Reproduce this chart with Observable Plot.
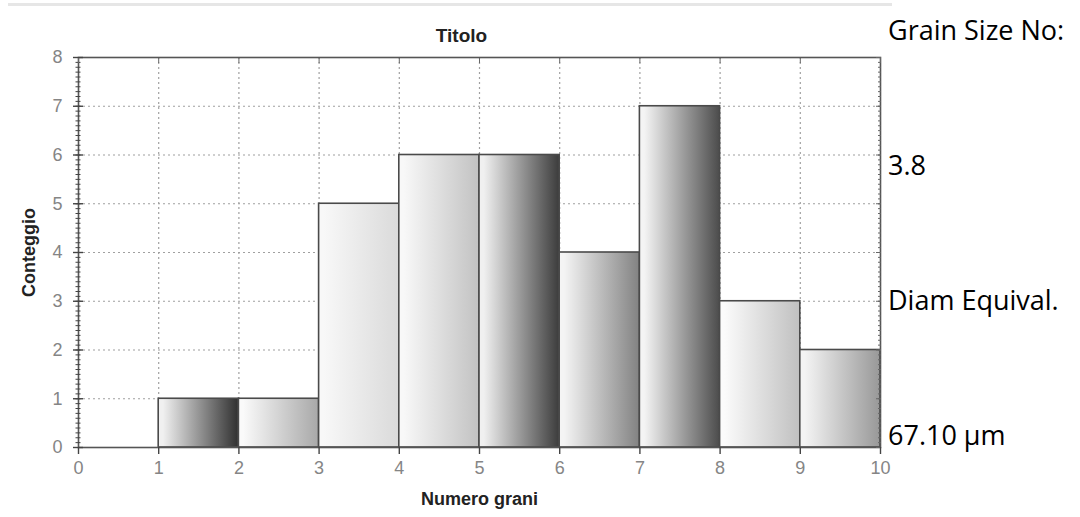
<!DOCTYPE html>
<html><head><meta charset="utf-8">
<script src="https://cdn.jsdelivr.net/npm/d3@7"></script>
<script src="https://cdn.jsdelivr.net/npm/@observablehq/plot@0.6"></script>
<style>
body{margin:0;background:#fff;width:1080px;height:517px;overflow:hidden;position:relative}
#chart{position:absolute;left:0;top:0}
#topline{position:absolute;left:8px;top:3px;width:884px;height:3px;background:#e6e6e6}
#side{position:absolute;left:0;top:0}
</style></head><body>
<div id="topline"></div>
<div id="chart"></div>
<svg id="side" width="1080" height="517"></svg>
<script>
// ---- data ----
const binStart = [1, 2, 3, 4, 5, 6, 7, 8, 9];
const binEnd   = [2, 3, 4, 5, 6, 7, 8, 9, 10];
const counts   = [1, 1, 5, 6, 6, 4, 7, 3, 2];
const xTicks = [0, 1, 2, 3, 4, 5, 6, 7, 8, 9, 10];
const yTicks = [0, 1, 2, 3, 4, 5, 6, 7, 8];
const minorYTicks = d3.range(0, 81).map(i => i / 10);
const titleText = "Titolo";
const xLabel = "Numero grani";
const yLabel = "Conteggio";
const sideLabels = ["Grain Size No:", "3.8", "Diam Equival.", "67.10 µm"];
// ---- styles (gradient end colours per bar) ----
const shades = [
  ["#f0f0f0", "#303030"],
  ["#fafafa", "#a8a8a8"],
  ["#f8f8f8", "#dadada"],
  ["#f8f8f8", "#c2c2c2"],
  ["#f0f0f0", "#3c3c3c"],
  ["#f4f4f4", "#828282"],
  ["#f4f4f4", "#4c4c4c"],
  ["#fbfbfb", "#c0c0c0"],
  ["#f4f4f4", "#989898"]
];

const bars = counts.map((c, i) => ({x1: binStart[i], x2: binEnd[i], y: c, fill: `url(#grad${i})`}));
const gridXVals = xTicks.slice(1, -1);
const gridYVals = yTicks.slice(1, -1);
const blank = () => "";

const plot = Plot.plot({
  width: 885, height: 517,
  marginLeft: 78, marginRight: 5, marginTop: 57, marginBottom: 70,
  x: {domain: [0, 10]},
  y: {domain: [0, 8]},
  color: {type: "identity"},
  style: {fontFamily: "'Liberation Sans', Arial, sans-serif", background: "transparent", overflow: "visible"},
  marks: [
    Plot.gridX(gridXVals, {stroke: "#a0a0a0", strokeOpacity: 1, strokeDasharray: "2,3", strokeWidth: 1.2}),
    Plot.gridY(gridYVals, {stroke: "#a0a0a0", strokeOpacity: 1, strokeDasharray: "2,3", strokeWidth: 1.2}),
    Plot.rectY(bars, {x1: "x1", x2: "x2", y: "y", fill: "fill", stroke: "#4a4a4a", strokeWidth: 1.6}),
    Plot.frame({stroke: "#555", strokeWidth: 1.6}),
    // left axis: minor ticks, major ticks
    Plot.axisY({ticks: minorYTicks, tickSize: 5, dx: 2.5, tickFormat: blank, label: null, stroke: "#444"}),
    Plot.axisY({ticks: yTicks, tickSize: 10, dx: 5, tickFormat: blank, label: null, stroke: "#444", strokeWidth: 1.4}),
    // right axis inner ticks
    Plot.axisY({anchor: "right", ticks: minorYTicks, tickSize: 3, dx: -3, tickFormat: blank, label: null, stroke: "#666"}),
    Plot.axisY({anchor: "right", ticks: yTicks, tickSize: 5, dx: -5, tickFormat: blank, label: null, stroke: "#666"}),
    // bottom axis ticks
    Plot.axisX({ticks: xTicks, tickSize: 7, tickFormat: blank, label: null, stroke: "#444", strokeWidth: 1.4}),
    // top inner ticks
    Plot.axisX({anchor: "top", ticks: xTicks, tickSize: 5, dy: 5, tickFormat: blank, label: null, stroke: "#666"}),
    // tick labels
    Plot.text(yTicks, {y: d => d, frameAnchor: "left", dx: -16, textAnchor: "end", text: d => String(d), fontSize: 18, fill: "#858585"}),
    Plot.text(xTicks, {x: d => d, frameAnchor: "bottom", dy: 26, text: d => String(d), fontSize: 18, fill: "#858585"}),
    // titles
    Plot.text([titleText], {frameAnchor: "top", dx: -18, dy: -29, text: d => d, fontSize: 19, fontWeight: "bold", fill: "#222"}),
    Plot.text([xLabel], {frameAnchor: "bottom", dy: 57, text: d => d, fontSize: 18, fontWeight: "bold", fill: "#222"}),
    Plot.text([yLabel], {frameAnchor: "left", dx: -49, rotate: -90, textAnchor: "middle", lineAnchor: "middle", text: d => d, fontSize: 18, fontWeight: "bold", fill: "#222"})
  ]
});

const svg = d3.select(plot);
const defs = svg.insert("defs", ":first-child");
shades.forEach(([a, b], i) => {
  const g = defs.append("linearGradient").attr("id", `grad${i}`)
    .attr("x1", 0).attr("x2", 1).attr("y1", 0).attr("y2", 0);
  g.append("stop").attr("offset", 0).attr("stop-color", a);
  g.append("stop").attr("offset", 0.06).attr("stop-color", a);
  g.append("stop").attr("offset", 1).attr("stop-color", b);
});
document.getElementById("chart").appendChild(plot);

const sideBaselines = [40, 175, 310, 445];
d3.select("#side").selectAll("text").data(sideLabels).join("text")
  .attr("x", 888).attr("y", (d, i) => sideBaselines[i])
  .attr("font-family", "'Open Sans', sans-serif").attr("font-size", 27).attr("fill", "#000")
  .text(d => d);
</script>
</body></html>
